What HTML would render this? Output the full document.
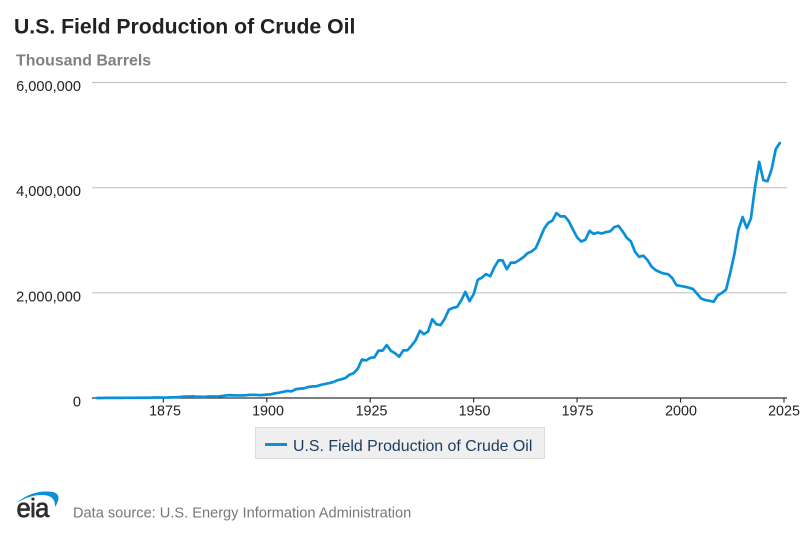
<!DOCTYPE html>
<html>
<head>
<meta charset="utf-8">
<style>
  html, body { margin: 0; padding: 0; background: #ffffff; }
  body { width: 800px; height: 533px; overflow: hidden; }
  svg { display: block; }
  text { font-family: "Liberation Sans", Arial, sans-serif; }
</style>
</head>
<body>
<svg width="800" height="533" viewBox="0 0 800 533" xmlns="http://www.w3.org/2000/svg">
  <rect x="0" y="0" width="800" height="533" fill="#ffffff"/>

  <!-- Title -->
  <text x="14" y="33.3" font-size="21.2" font-weight="bold" fill="#222222">U.S. Field Production of Crude Oil</text>
  <text x="16" y="65.7" font-size="15.9" font-weight="bold" fill="#808080">Thousand Barrels</text>

  <!-- Grid lines -->
  <g stroke="#c4c4c4" stroke-width="1.2">
    <line x1="92" y1="82.5" x2="787" y2="82.5"/>
    <line x1="92" y1="187.7" x2="787" y2="187.7"/>
    <line x1="92" y1="292.8" x2="787" y2="292.8"/>
  </g>

  <!-- Y labels -->
  <g font-size="14.6" fill="#222222" text-anchor="end">
    <text x="81" y="91">6,000,000</text>
    <text x="81" y="196.2">4,000,000</text>
    <text x="81" y="301.3">2,000,000</text>
    <text x="81" y="406.5">0</text>
  </g>

  <!-- X axis -->
  <line x1="92" y1="398" x2="787" y2="398" stroke="#333333" stroke-width="1.3"/>
  <g stroke="#333333" stroke-width="1.2">
    <line x1="163.3" y1="398" x2="163.3" y2="402.5"/>
    <line x1="266.75" y1="398" x2="266.75" y2="402.5"/>
    <line x1="370.2" y1="398" x2="370.2" y2="402.5"/>
    <line x1="473.65" y1="398" x2="473.65" y2="402.5"/>
    <line x1="577.1" y1="398" x2="577.1" y2="402.5"/>
    <line x1="680.55" y1="398" x2="680.55" y2="402.5"/>
    <line x1="784" y1="398" x2="784" y2="402.5"/>
  </g>
  <g font-size="14.3" fill="#222222" text-anchor="middle">
    <text x="165" y="415.5">1875</text>
    <text x="268" y="415.5">1900</text>
    <text x="371.5" y="415.5">1925</text>
    <text x="474.5" y="415.5">1950</text>
    <text x="577.5" y="415.5">1975</text>
    <text x="681" y="415.5">2000</text>
    <text x="784" y="415.5">2025</text>
  </g>

  <!-- Series -->
  <g transform="translate(163.3,398) scale(4.138,-0.00005258) translate(-1875,0)">
    <polyline fill="none" stroke="#0a90d8" stroke-width="2.7" stroke-linejoin="round" stroke-linecap="round" vector-effect="non-scaling-stroke"
      points="1859,2 1860,500 1861,2114 1862,3057 1863,2611 1864,2116 1865,2498 1866,3598 1867,3347 1868,3646 1869,4215 1870,5261 1871,5205 1872,6293 1873,9894 1874,10927 1875,8788 1876,9133 1877,13350 1878,15397 1879,19914 1880,26286 1881,27661 1882,30350 1883,23450 1884,24218 1885,21859 1886,28065 1887,28283 1888,27612 1889,35164 1890,45824 1891,54293 1892,50515 1893,48431 1894,49344 1895,52892 1896,60960 1897,60476 1898,55364 1899,57071 1900,63621 1901,69389 1902,88767 1903,100461 1904,117081 1905,134717 1906,126494 1907,166095 1908,178527 1909,183171 1910,209557 1911,220449 1912,222935 1913,248446 1914,265763 1915,281104 1916,300767 1917,335316 1918,355928 1919,378367 1920,442929 1921,472183 1922,557531 1923,732407 1924,713940 1925,763743 1926,770874 1927,901129 1928,901474 1929,1007323 1930,898011 1931,851081 1932,785159 1933,905656 1934,908065 1935,996596 1936,1099687 1937,1279160 1938,1214355 1939,1264962 1940,1498000 1941,1402228 1942,1386645 1943,1505613 1944,1677904 1945,1713655 1946,1733939 1947,1856987 1948,2020185 1949,1841940 1950,1973574 1951,2247711 1952,2289836 1953,2357082 1954,2314988 1955,2484428 1956,2617283 1957,2616901 1958,2448987 1959,2574590 1960,2574933 1961,2621758 1962,2676189 1963,2752723 1964,2786822 1965,2848514 1966,3027763 1967,3215742 1968,3329042 1969,3371751 1970,3517450 1971,3453914 1972,3455368 1973,3360903 1974,3202585 1975,3056779 1976,2976180 1977,3009265 1978,3178216 1979,3121310 1980,3146365 1981,3128624 1982,3156715 1983,3170999 1984,3249696 1985,3274553 1986,3168252 1987,3047378 1988,2979123 1989,2778773 1990,2684687 1991,2707039 1992,2624632 1993,2499033 1994,2431476 1995,2394268 1996,2366017 1997,2354831 1998,2281919 1999,2146732 2000,2130707 2001,2117511 2002,2097124 2003,2073453 2004,1983300 2005,1890106 2006,1862259 2007,1848450 2008,1830067 2009,1953458 2010,1999352 2011,2060394 2012,2377143 2013,2732165 2014,3203515 2015,3442188 2016,3232025 2017,3413376 2018,4011521 2019,4491313 2020,4143984 2021,4122212 2022,4346726 2023,4730000 2024,4850000"/>
  </g>

  <!-- Legend -->
  <rect x="255.5" y="427.5" width="289" height="31" fill="#efefef" stroke="#dcdcdc" stroke-width="1"/>
  <line x1="265" y1="444.5" x2="287" y2="444.5" stroke="#0a90d8" stroke-width="3"/>
  <text x="293" y="451" font-size="15.9" fill="#1c3a5e">U.S. Field Production of Crude Oil</text>

  <!-- EIA logo -->
  <path d="M16.5,503 Q33,489 53,492 Q59,493.5 58.5,499 Q57.5,503.5 55,507 Q55.5,497.5 47,495.5 Q33,493 16.5,503 Z" fill="#0a90d8"/>
  <text x="16.5" y="517" font-size="25.5" fill="#2e2e2e" stroke="#2e2e2e" stroke-width="0.7" letter-spacing="-0.6">eia</text>

  <!-- Source -->
  <text x="73" y="517.3" font-size="14.6" fill="#777777">Data source: U.S. Energy Information Administration</text>
</svg>
</body>
</html>
